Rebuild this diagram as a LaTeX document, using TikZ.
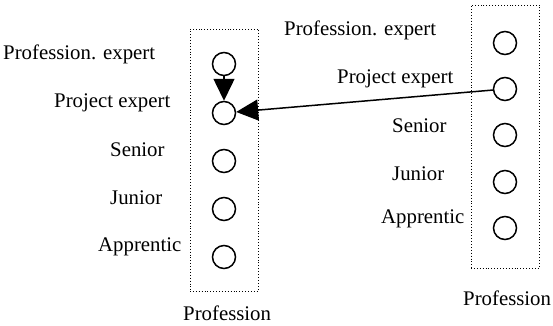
\documentclass[tikz,border=0pt]{standalone}
\usepackage{fontspec}
\setmainfont{Liberation Serif}
\usetikzlibrary{arrows.meta}
\begin{document}
\begin{tikzpicture}[x=1pt,y=-1pt,
  lvl/.style={draw,circle,line width=1.5pt,minimum size=23pt,inner sep=0pt},
  lab/.style={anchor=base west,inner sep=0pt,font=\fontsize{20.8}{24}\selectfont},
  grp/.style={draw,dotted,line width=0.9pt,inner sep=0pt},
  arr/.style={line width=1.5pt,-{Triangle[length=22pt,width=21pt]}}]
\useasboundingbox (0,0) rectangle (553,325);
% left group
\node[grp,minimum width=68pt,minimum height=262pt] (lbox) at (224,160) {};
\node[lvl] (l1) at (224,64) {};
\node[lvl] (l2) at (224,113) {};
\node[lvl] (l3) at (224,161) {};
\node[lvl] (l4) at (224,209) {};
\node[lvl] (l5) at (224,257) {};
\node[lab] (lt1) at (3,59) {Profession. expert};
\node[lab] (lt2) at (54,107) {Project expert};
\node[lab] (lt3) at (110,156) {Senior};
\node[lab] (lt4) at (110,204) {Junior};
\node[lab] (lt5) at (98,251) {Apprentic};
\node[lab] (lname) at (183,320) {Profession};
% right group
\node[grp,minimum width=68pt,minimum height=263pt] (rbox) at (505,136.5) {};
\node[lvl] (r1) at (505,43) {};
\node[lvl] (r2) at (505,89) {};
\node[lvl] (r3) at (505,135) {};
\node[lvl] (r4) at (505,182) {};
\node[lvl] (r5) at (505,228) {};
\node[lab] (rt1) at (284,35) {Profession. expert};
\node[lab] (rt2) at (337,83) {Project expert};
\node[lab] (rt3) at (392,132) {Senior};
\node[lab] (rt4) at (392,180) {Junior};
\node[lab] (rt5) at (381,223) {Apprentic};
\node[lab] (rname) at (463,305) {Profession};
% connectors
\draw[arr] (l1) -- (l2);
\draw[arr] (r2) -- (l2);
\end{tikzpicture}
\end{document}
